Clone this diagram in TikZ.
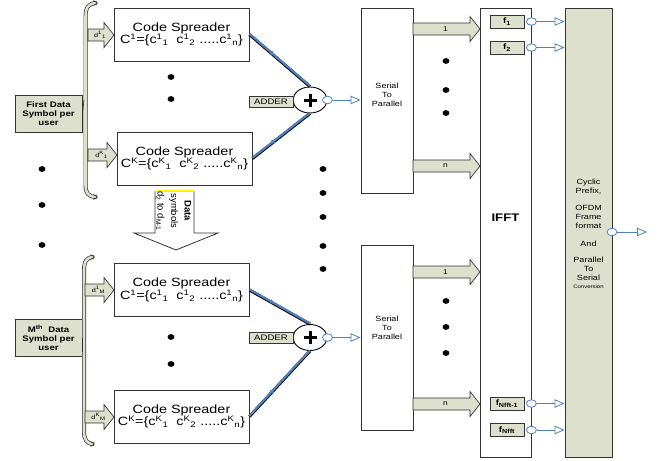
\documentclass[tikz,border=0pt]{standalone}
\usepackage{fontspec}
\setmainfont{Liberation Sans}
\newfontfamily\widesans[FakeStretch=1.2]{Liberation Sans}
\usetikzlibrary{shapes.geometric,arrows.meta,decorations.markings,calc}

\definecolor{panel}{HTML}{DDE0CC}
\definecolor{sigblue}{HTML}{4F81BD}
\definecolor{edge}{HTML}{333333}

\newcommand\fsz[2]{\fontsize{#1}{#2}\selectfont}

% block arrow: {name}{x start}{x tip}{y centre}{label}{font}
\newcommand\fatarrow[6]{%
  \filldraw[fill=panel, draw=edge, line width=0.7pt]
    (#2,#4-6) -- (#3-10,#4-6) -- (#3-10,#4-12.5) -- (#3,#4)
    -- (#3-10,#4+12.5) -- (#3-10,#4+6) -- (#2,#4+6) -- cycle;
  \node[inner sep=0pt, font=#6] (#1) at ({(#2+#3)/2-1},#4) {#5};%
}

\tikzset{
  every node/.style={font=\widesans},
  plainbox/.style={draw=edge, line width=0.9pt, fill=white, inner sep=0pt, align=center},
  tagbox/.style={draw=edge, line width=0.9pt, fill=panel, inner sep=0pt, align=center},
  csbox/.style={plainbox, minimum width=135pt, minimum height=53pt, font=\widesans\fsz{12}{12.5}},
  sumnode/.style={ellipse, draw=black, line width=0.9pt, fill=white, inner sep=0pt,
    minimum width=34pt, minimum height=26pt},
  ring/.style={ellipse, draw=sigblue, line width=0.8pt, fill=white, inner sep=0pt,
    minimum width=10pt, minimum height=7.5pt},
  sigline/.style={sigblue, line width=0.8pt, -{Triangle[open, length=10pt, width=8.5pt]}},
  midmark/.style={postaction={decorate}, decoration={markings,
    mark=at position 0.42 with {\arrow{Latex[length=5pt,width=5pt]}}}},
  bracestyle/.style={draw=edge, line width=0.7pt, double=panel, double distance=2.6pt},
  groupbox/.style={tagbox, minimum width=67pt, minimum height=37pt, font=\widesans\bfseries\fsz{8}{9}},
  addertag/.style={tagbox, minimum width=44pt, minimum height=11pt, font=\widesans\fsz{8}{9}},
  fbox/.style={tagbox, minimum width=34pt, minimum height=13pt, font=\widesans\bfseries\fsz{8}{9}},
  sptext/.style={align=center, inner sep=0pt, font=\widesans\fsz{7.5}{9}},
}

\begin{document}
\begin{tikzpicture}[x=1pt,y=-1pt]
\useasboundingbox (0,0) rectangle (657,461);
\fill[white] (0,0) rectangle (657,461);

% ---------- input groups ----------
\node[groupbox] (grp1) at (48.5,113.5) {First Data\\Symbol per\\user};
\node[groupbox] (grpM) at (48.5,337.5) {M\textsuperscript{th}\ \ Data\\Symbol per\\user};

% braces collecting the data symbols
\draw[bracestyle] (97,3) .. controls (88,3) and (85.5,8) .. (85.5,17) -- (85.5,185)
  .. controls (85.5,193) and (88,197) .. (97,197);
\draw[edge, line width=0.6pt] (93.5,0.5) -- (97.5,3) -- (93.5,5.5);
\draw[edge, line width=0.6pt] (93.5,194.5) -- (97.5,197) -- (93.5,199.5);
\draw[edge, line width=0.6pt] (grp1.east) -- (84,100);

\draw[bracestyle] (94,257) .. controls (86,257) and (84,262) .. (84,271) -- (84,431)
  .. controls (84,439) and (86,444) .. (94,444);
\draw[edge, line width=0.6pt] (90.5,254.5) -- (94.5,257) -- (90.5,259.5);
\draw[edge, line width=0.6pt] (90.5,441.5) -- (94.5,444) -- (90.5,446.5);
\draw[edge, line width=0.6pt] (grpM.east) -- (82.5,352);

% ---------- code spreaders ----------
\node[csbox] (cs1) at (181.5,34.5) {Code Spreader\\C\textsuperscript{1}=\{c\textsuperscript{1}\textsubscript{1}\ \ c\textsuperscript{1}\textsubscript{2}\ .....c\textsuperscript{1}\textsubscript{n}\}};
\node[csbox] (cs2) at (184.5,158.5) {Code Spreader\\C\textsuperscript{K}=\{c\textsuperscript{K}\textsubscript{1}\ \ c\textsuperscript{K}\textsubscript{2}\ .....c\textsuperscript{K}\textsubscript{n}\}};
\node[csbox] (cs3) at (181.5,290) {Code Spreader\\C\textsuperscript{1}=\{c\textsuperscript{1}\textsubscript{1}\ \ c\textsuperscript{1}\textsubscript{2}\ .....c\textsuperscript{1}\textsubscript{n}\}};
\node[csbox] (cs4) at (181.5,416.5) {Code Spreader\\C\textsuperscript{K}=\{c\textsuperscript{K}\textsubscript{1}\ \ c\textsuperscript{K}\textsubscript{2}\ .....c\textsuperscript{K}\textsubscript{n}\}};

% data symbol arrows into the spreaders
\fatarrow{d11}{88}{114}{35}{d\textsuperscript{1}\textsubscript{1}}{\widesans\fsz{6}{7}}
\fatarrow{dK1}{88}{117}{155}{d\textsuperscript{K}\textsubscript{1}}{\widesans\fsz{6}{7}}
\fatarrow{d1M}{85}{114}{290}{d\textsuperscript{1}\textsubscript{M}}{\widesans\fsz{6}{7}}
\fatarrow{dKM}{85}{114}{417}{d\textsuperscript{K}\textsubscript{M}}{\widesans\fsz{6}{7}}

% downward arrow for the intermediate symbols
\filldraw[fill=white, draw=edge, line width=0.8pt]
  (155,191) -- (155,233) -- (134,233) -- (176,250) -- (218,233) -- (194,233) -- (194,191);
\draw[yellow, line width=1.6pt] (155,191) -- (194,191);
\node[rotate=-90, align=center, inner sep=0pt, font=\fsz{9.5}{13.5}] (dsym) at (173.5,211)
  {\textbf{Data}\\symbols\\d\textsubscript{2} to d\textsubscript{M-1}};

% ---------- dots ----------
\foreach \px/\py in {42/169,42/205,42/245, 171/77,171/99,171/337,171/364,
  323/169,323/193,323/217,323/246,323/269,
  446/61,446/90,446/113,446/301,446/327,446/353,
  507/84,507/111,507/137,507/308,507/335,507/362}
  \fill (\px,\py) ellipse (3.4 and 2.9);

% ---------- adders ----------
\node[sumnode] (add1) at (310,100) {};
\node[sumnode] (add2) at (310,337.5) {};
\foreach \s in {add1,add2}{
  \draw[line width=3pt] ([xshift=-6.5pt]\s.center) -- ([xshift=6.5pt]\s.center);
  \draw[line width=3pt] ([yshift=-6.5pt]\s.center) -- ([yshift=6.5pt]\s.center);
}
\node[addertag] (tag1) at (271,101.5) {ADDER};
\node[addertag] (tag2) at (271,337.5) {ADDER};

% spreader outputs into the adders
\foreach \a/\b in {cs1/add1.north, cs2/add1.south, cs3/add2.north, cs4/add2.south}{
  \draw[black, line width=3pt] (\a.east) -- (\b);
  \draw[sigblue, line width=2.1pt, midmark] ($(\a.east)+(0,-0.6)$) -- ($(\b)+(0,-0.6)$);
}

% ---------- serial to parallel ----------
\node[plainbox, minimum width=52pt, minimum height=185pt] (sp1) at (387,100.5) {};
\node[plainbox, minimum width=52pt, minimum height=185pt] (sp2) at (387,337.5) {};
\node[sptext] (sp1txt) at (387,95) {Serial\\To\\Parallel};
\node[sptext] (sp2txt) at (387,328) {Serial\\To\\Parallel};

\node[ring] (o1) at (add1.east) {};
\node[ring] (o2) at (add2.east) {};
\draw[sigline] (o1.east) -- (sp1.west |- o1.east);
\draw[sigline] (o2.east) -- (sp2.west |- o2.east);

\fatarrow{sp1a}{413}{480}{29}{1}{\widesans\fsz{7}{8}}
\fatarrow{sp1n}{413}{480}{166}{n}{\widesans\fsz{7}{8}}
\fatarrow{sp2a}{413}{480}{272}{1}{\widesans\fsz{7}{8}}
\fatarrow{sp2n}{413}{480}{404}{n}{\widesans\fsz{7}{8}}

% ---------- IFFT ----------
\node[plainbox, minimum width=51pt, minimum height=449pt] (ifft) at (505.5,232.5) {};
\node[font=\widesans\bfseries\fsz{11}{12}, inner sep=0pt] (ifftlbl) at (505.5,218) {IFFT};
\node[fbox] (f1) at (507,21.5) {f\textsubscript{1}};
\node[fbox] (f2) at (507,47.5) {f\textsubscript{2}};
\node[fbox] (fN1) at (507,403.5) {f\textsubscript{Nfft-1}};
\node[fbox] (fN) at (507,430) {f\textsubscript{Nfft}};

% ---------- cyclic prefix / P-S ----------
\node[tagbox, minimum width=47pt, minimum height=449pt] (cp) at (588.5,232.5) {};
\node[align=center, inner sep=0pt, font=\widesans\fsz{7.5}{8.7}] (cptxt) at (588.5,234)
  {Cyclic\\Prefix,\\[9pt]OFDM\\Frame\\format\\[9pt]And\\[8pt]Parallel\\To\\Serial\\{\fsz{5}{6}Conversion}};

\foreach \f in {f1,f2,fN1,fN}{
  \node[ring] (r\f) at (ifft.east |- \f) {};
  \draw[sigline] (r\f.east) -- (cp.west |- r\f);
}

\node[ring] (rcp) at (612,232) {};
\coordinate (cpout) at (647,232);
\draw[sigline] (rcp.east) -- (cpout);

\end{tikzpicture}
\end{document}
